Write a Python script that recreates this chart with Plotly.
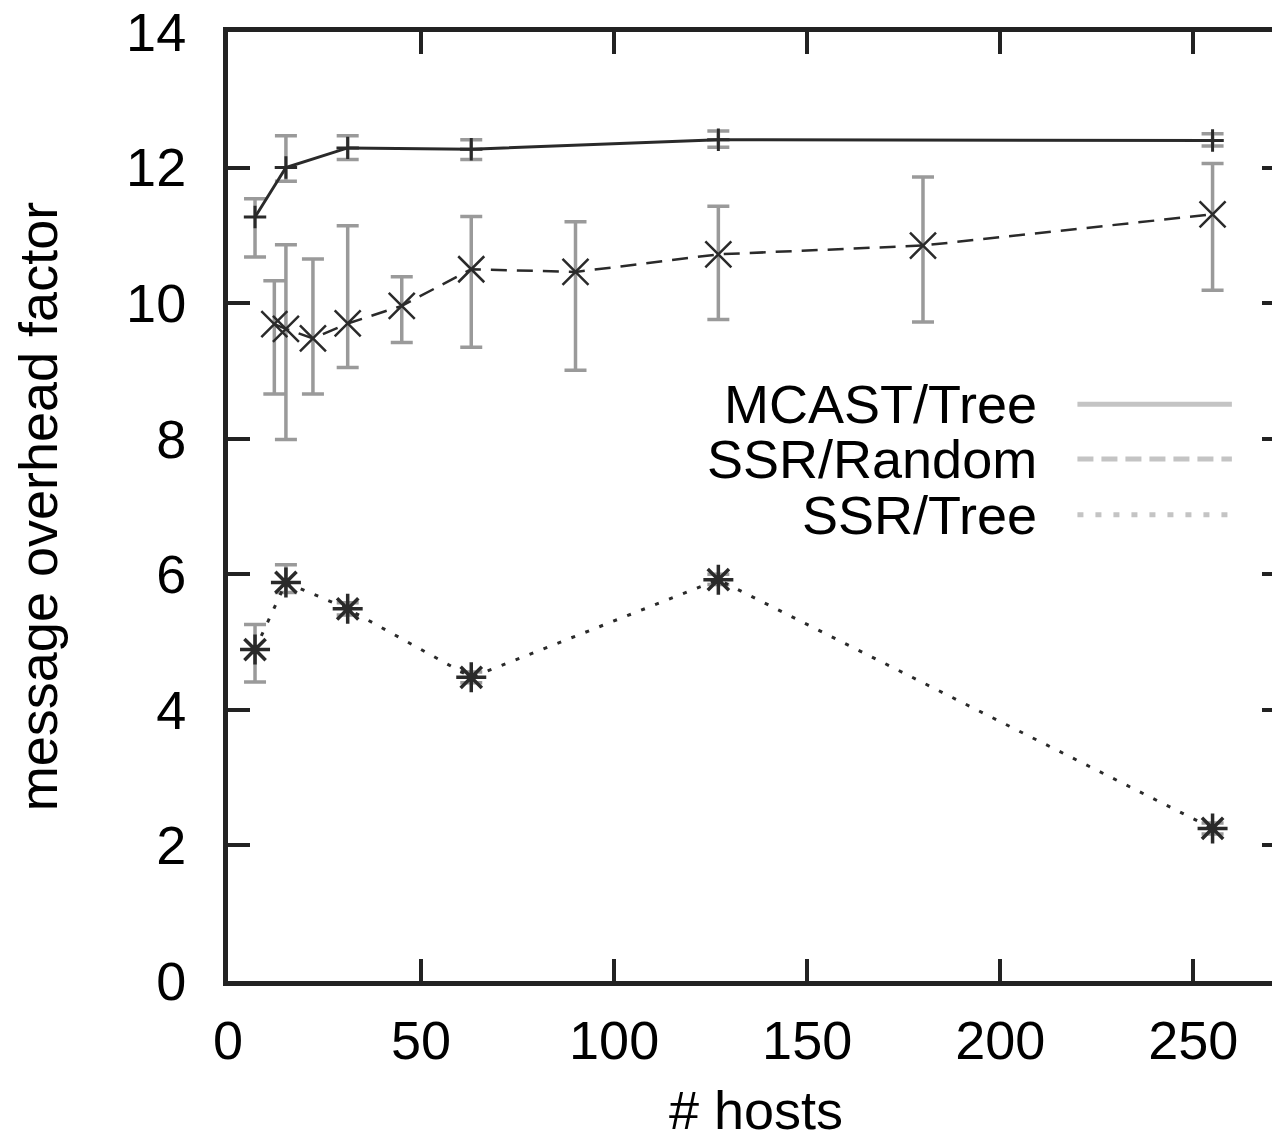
import plotly.graph_objects as go

# ---- data ----
mc_x = [7, 15, 31, 63, 127, 255]
mc_y = [11.27, 12.00, 12.29, 12.27, 12.41, 12.40]
mc_hi = [11.54, 12.47, 12.47, 12.41, 12.54, 12.50]
mc_lo = [10.68, 11.80, 12.12, 12.12, 12.30, 12.32]

sr_x = [12, 15, 22, 31, 45, 63, 90, 127, 180, 255]
sr_y = [9.69, 9.62, 9.48, 9.70, 9.96, 10.50, 10.46, 10.72, 10.85, 11.31]
sr_hi = [10.33, 10.86, 10.65, 11.14, 10.39, 11.28, 11.20, 11.43, 11.86, 12.06]
sr_lo = [8.66, 7.99, 8.66, 9.05, 9.42, 9.35, 9.01, 9.76, 9.72, 10.19]

st_x = [7, 15, 31, 63, 127, 255]
st_y = [4.89, 5.88, 5.49, 4.48, 5.92, 2.25]
st_hi = [5.26, 6.14, 5.58, 4.56, 6.00, 2.33]
st_lo = [4.41, 5.73, 5.40, 4.40, 5.85, 2.17]

series_names = ["MCAST/Tree", "SSR/Random", "SSR/Tree"]
x_ticks = [0, 50, 100, 150, 200, 250]
y_ticks = [0, 2, 4, 6, 8, 10, 12, 14]

FONT = "Liberation Sans, Arial, sans-serif"
FS = 54
LINE = "#2a2a2a"
ERR = "#9a9a9a"
LEG = "#c4c4c4"


def err(y, hi, lo):
    return dict(
        type="data", symmetric=False,
        array=[h - v for h, v in zip(hi, y)],
        arrayminus=[v - l for l, v in zip(lo, y)],
        color=ERR, thickness=3.5, width=11,
    )


fig = go.Figure()
fig.add_trace(go.Scatter(
    x=mc_x, y=mc_y, mode="lines+markers", name=series_names[0],
    line=dict(color=LINE, width=3),
    marker=dict(symbol="cross-thin-open", size=16, color=LINE,
                line=dict(width=3, color=LINE)),
    error_y=err(mc_y, mc_hi, mc_lo), showlegend=False))
fig.add_trace(go.Scatter(
    x=sr_x, y=sr_y, mode="lines+markers", name=series_names[1],
    line=dict(color=LINE, width=2.5, dash="16px,10px"),
    marker=dict(symbol="x-thin-open", size=26, color=LINE,
                line=dict(width=2.5, color=LINE)),
    error_y=err(sr_y, sr_hi, sr_lo), showlegend=False))
fig.add_trace(go.Scatter(
    x=st_x, y=st_y, mode="lines+markers", name=series_names[2],
    line=dict(color=LINE, width=3, dash="4px,11px"),
    marker=dict(symbol="asterisk-open", size=25, color=LINE,
                line=dict(width=3.5, color=LINE)),
    error_y=err(st_y, st_hi, st_lo), showlegend=False))

# legend (text left of sample line, gnuplot style)
leg_y = [8.51, 7.70, 6.88]
dashes = ["solid", "16px,8px", "6px,12px"]
for name, yy, d in zip(series_names, leg_y, dashes):
    fig.add_annotation(x=210, y=yy, xref="x", yref="y", text=name,
                       showarrow=False, xanchor="right", yanchor="middle",
                       font=dict(family=FONT, size=FS, color="black"))
    fig.add_shape(type="line", xref="x", yref="y", x0=220, x1=260,
                  y0=yy, y1=yy, line=dict(color=LEG, width=5, dash=d))

axis_common = dict(
    showgrid=False, zeroline=False, showline=True, linecolor="#222",
    linewidth=5, ticks="inside", ticklen=22, tickwidth=4, tickcolor="#222",
    mirror="ticks", ticklabeloverflow="allow", automargin=False,
    tickfont=dict(family=FONT, size=FS, color="black"),
)

fig.update_xaxes(range=[0, 273.5], tickmode="array", tickvals=x_ticks,
                 ticktext=[str(v) for v in x_ticks], ticklabelstandoff=8,
                 title=dict(text="# hosts", standoff=24,
                            font=dict(family=FONT, size=FS, color="black")),
                 **axis_common)
fig.update_yaxes(range=[0, 14], tickmode="array", tickvals=y_ticks,
                 ticktext=[str(v) for v in y_ticks], ticklabelstandoff=26,
                 title=dict(text="message overhead factor", standoff=62,
                            font=dict(family=FONT, size=FS, color="black")),
                 **axis_common)

fig.update_layout(
    width=1280, height=1142,
    margin=dict(l=220, r=4, t=24, b=169),
    plot_bgcolor="white", paper_bgcolor="white",
    showlegend=False,
)

fig.write_html("out.html")
